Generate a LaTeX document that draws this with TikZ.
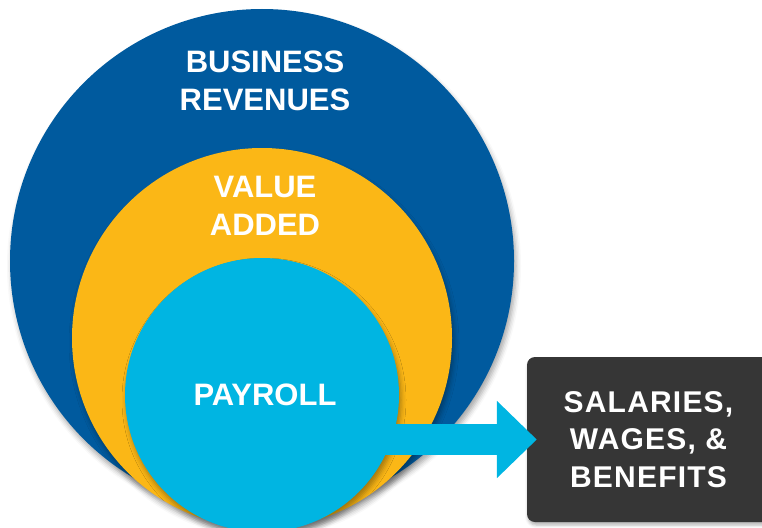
\documentclass[tikz,border=0pt]{standalone}
\usepackage{fontspec}
\setmainfont{Liberation Sans}
\usetikzlibrary{arrows.meta, shadows.blur}

\definecolor{revblue}{RGB}{0,90,158}
\definecolor{addyellow}{RGB}{251,183,22}
\definecolor{payblue}{RGB}{0,181,226}
\definecolor{boxgray}{RGB}{54,54,54}

\begin{document}
\begin{tikzpicture}[
		x=1pt, y=-1pt,
		disc/.style	={ circle, inner sep=0pt,
			blur shadow={shadow xshift=2pt, shadow yshift=-5pt,
				shadow blur radius=5pt, shadow opacity=35},
		},
		caption/.style	={ text=white, align=center,
			font=\bfseries\fontsize{31}{38}\selectfont,
		},
		outcome/.style	={ fill=boxgray, rounded corners=8pt,
			minimum width=243pt, minimum height=165pt,
			text=white, align=center,
			font=\bfseries\fontsize{30}{37.5}\selectfont\addfontfeature{LetterSpace=4},
			blur shadow={shadow xshift=1pt, shadow yshift=-3pt,
				shadow blur radius=3pt, shadow opacity=30},
		},
		flow/.style	={ line width=31pt, draw=payblue, line cap=butt,
			-{Triangle[length=40pt,width=75pt]},
		},
	]
	\useasboundingbox (0,0) rectangle (762,527);
	
	\def\circlelist{ revenues/262/261/252/revblue, added/262/338/190/addyellow, payroll/262/395/137/payblue}
	
	% draw nested circles
	\foreach \n/\x/\y/\r/\c in \circlelist
		\node [disc, fill=\c, minimum size=2*\r*1pt] (\n) at (\x,\y) {};
	
	% circle captions
	\node [caption] (revtext) at (265,81) {BUSINESS\\REVENUES};
	\node [caption] (addtext) at (265,206) {VALUE\\ADDED};
	\node [caption] (paytext) at (265,395) {PAYROLL};
	
	% result box
	\node [outcome] (wages) at (648.5,439.5) {SALARIES,\\WAGES, \&\\BENEFITS};
	
	% draw arrow
	\coordinate (tip) at ([xshift=10pt]wages.west);
	\draw [flow] (payroll.center |- tip) -- (tip);
	
\end{tikzpicture}
\end{document}
